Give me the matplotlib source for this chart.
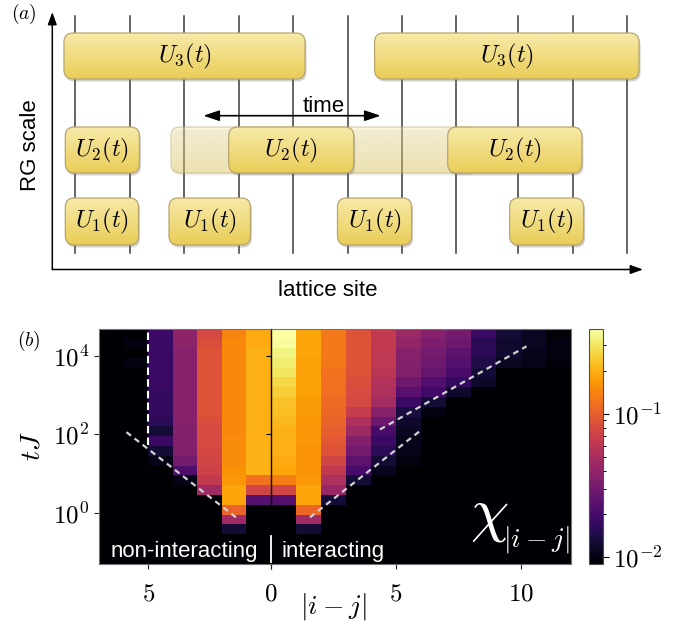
import numpy as np
import matplotlib
matplotlib.use('Agg')
import matplotlib.pyplot as plt
from matplotlib.colors import LogNorm, to_rgba
from matplotlib.patches import FancyBboxPatch
from matplotlib.ticker import FixedLocator, NullLocator

plt.rcParams['mathtext.fontset'] = 'cm'
plt.rcParams['font.family'] = ['Liberation Sans', 'DejaVu Sans']

# ---------------- panel (b) data ----------------
# log10(tJ) cell edges (bottom -> top)
log10_t_edges = [-0.55, -0.30, -0.05, 0.20, 0.45, 0.70, 0.95, 1.20, 1.45, 1.70, 1.95,
                 2.20, 2.45, 2.70, 2.95, 3.20, 3.45, 3.70, 3.95, 4.20, 4.45, 4.70]
B = -2.5  # below colour range
# log10(chi) per column, rows listed from top (large t) to bottom (small t)
# non-interacting side, columns x = [-7,-6] ... [-1,0]
log_chi_nonint = [
    [B, B, B, B, B, B, B, B, B, B, B, B, B, B, B, B, B, B, B, B, B],
    [B, -2.00, B, -2.00, B, B, B, B, B, B, B, B, B, B, B, B, B, B, B, B, B],
    [-1.74, -1.75, -1.75, -1.75, -1.75, -1.75, -1.77, -1.77, -1.77, -1.80, -1.89,
     -1.75, -1.89, -1.98, B, B, B, B, B, B, B],
    [-1.42, -1.42, -1.44, -1.44, -1.44, -1.44, -1.44, -1.44, -1.44, -1.44, -1.46,
     -1.46, -1.46, -1.51, -1.67, -1.98, B, B, B, B, B],
    [-1.11, -1.08, -1.06, -1.06, -1.06, -1.06, -1.06, -1.06, -1.06, -1.08, -1.10,
     -1.10, -1.11, -1.13, -1.15, -1.20, -1.34, B, B, B, B],
    [-0.85, -0.83, -0.83, -0.83, -0.83, -0.83, -0.83, -0.83, -0.83, -0.83, -0.83,
     -0.82, -0.82, -0.82, -0.80, -0.78, -0.73, -0.73, -0.98, -1.34, -1.89],
    [-0.72, -0.72, -0.70, -0.70, -0.70, -0.70, -0.70, -0.70, -0.70, -0.70, -0.70,
     -0.70, -0.69, -0.69, -0.69, -0.92, -1.13, -1.64, B, B, B],
]
# interacting side, columns x = [0,1] ... [11,12]
log_chi_int = [
    [-0.41, -0.42, -0.47, -0.49, -0.52, -0.57, -0.60, -0.64, -0.65, -0.67, -0.69,
     -0.70, -0.70, -0.72, -0.73, -0.88, -1.13, -1.64, B, B, B],
    [-0.73, -0.73, -0.73, -0.75, -0.75, -0.75, -0.75, -0.77, -0.77, -0.78, -0.78,
     -0.78, -0.80, -0.80, -0.80, -0.78, -0.73, -0.73, -0.96, -1.34, -1.89],
    [-0.90, -0.90, -0.90, -0.90, -0.92, -0.93, -0.93, -0.95, -0.96, -0.98, -1.00,
     -1.03, -1.06, -1.13, -1.20, -1.28, -1.38, -1.89, B, B, B],
    [-1.06, -1.05, -1.05, -1.06, -1.06, -1.08, -1.10, -1.11, -1.18, -1.28, -1.36,
     -1.46, -1.52, -1.61, -1.69, -1.89, B, B, B, B, B],
    [-1.20, -1.20, -1.21, -1.21, -1.23, -1.26, -1.28, -1.33, -1.44, -1.56, -1.69,
     -1.75, -1.80, -1.89, -1.97, B, B, B, B, B, B],
    [-1.36, -1.39, -1.44, -1.46, -1.47, -1.54, -1.62, -1.75, -1.87, -1.92, -1.95,
     -1.97, -1.98, -2.00, B, B, B, B, B, B, B],
    [-1.44, -1.49, -1.51, -1.54, -1.57, -1.66, -1.72, -1.89, -2.00, B, B,
     B, B, B, B, B, B, B, B, B, B],
    [-1.51, -1.54, -1.61, -1.64, -1.69, -1.77, -1.92, B, B, B, B,
     B, B, B, B, B, B, B, B, B, B],
    [-1.75, -1.80, -1.80, -1.84, -1.89, -1.93, B, B, B, B, B,
     B, B, B, B, B, B, B, B, B, B],
    [-1.89, -1.92, -1.92, -1.95, B, B, B, B, B, B, B,
     B, B, B, B, B, B, B, B, B, B],
    [-1.95, -1.95, -1.97, -1.98, B, B, B, B, B, B, B,
     B, B, B, B, B, B, B, B, B, B],
    [-2.03, -2.00, -2.00, -2.02, B, B, B, B, B, B, B,
     B, B, B, B, B, B, B, B, B, B],
]
# dashed guide lines: (x0, log10 t0) -> (x1, log10 t1)
guide_left = [(-1.43, -0.12), (-5.95, 2.08)]
guide_right_low = [(1.56, -0.12), (5.96, 2.08)]
guide_right_high = [(4.36, 2.12), (10.23, 4.24)]
wall_x, wall_logt = -5.0, (1.72, 4.70)

cbar_vmin_log, cbar_vmax_log = -2.049, -0.406

# ---------------- panel (a) diagram ----------------
site_x = [75.3, 129.8, 184.2, 238.7, 293.1, 347.6, 402.0, 456.4, 518.3, 572.7, 627.2]
row_y = {3: (33, 79), 2: (127, 173), 1: (198, 245)}
gates_U3 = [(64, 305), (374.6, 639)]
gates_U2 = [(65.3, 139.4), (228.7, 353.7), (447.7, 581.9)]
ghost_U2 = (171, 477)
gates_U1 = [(65.3, 138.5), (169, 250.4), (337.5, 411.6), (509.6, 583.6)]

W, H = 684, 622
fig = plt.figure(figsize=(W / 100, H / 100), dpi=100)

# ---------------- panel (b) ----------------
cmap = plt.get_cmap('inferno').copy()
cmap.set_under(cmap(0.0))
norm = LogNorm(vmin=10 ** cbar_vmin_log, vmax=10 ** cbar_vmax_log)
bg = cmap(0.0)

bot = (H - 564) / H
hgt = (564 - 328.7) / H
axL = fig.add_axes([99.3 / W, bot, (271 - 99.3) / W, hgt])
axR = fig.add_axes([271 / W, bot, (570.7 - 271) / W, hgt], sharey=axL)

t_edges = 10 ** np.array(log10_t_edges)
ZL = 10 ** np.array(log_chi_nonint, dtype=float).T[::-1]
ZR = 10 ** np.array(log_chi_int, dtype=float).T[::-1]
xL = np.arange(-len(log_chi_nonint), 1)
xR = np.arange(0, len(log_chi_int) + 1)
mesh = axL.pcolormesh(xL, t_edges, ZL, cmap=cmap, norm=norm, shading='flat',
                      antialiased=False, linewidth=0)
axR.pcolormesh(xR, t_edges, ZR, cmap=cmap, norm=norm, shading='flat',
               antialiased=False, linewidth=0)

for ax in (axL, axR):
    ax.set_facecolor(bg)
    ax.set_yscale('log')
axL.set_ylim(10 ** -1.31, 10 ** 4.69)
axL.set_xlim(-7, 0)
axR.set_xlim(0, 12)

axL.yaxis.set_major_locator(FixedLocator([1, 1e2, 1e4]))
axL.yaxis.set_minor_locator(NullLocator())
axL.set_yticklabels([r'$10^{0}$', r'$10^{2}$', r'$10^{4}$'])
axL.set_xticks([-5, 0])
axL.set_xticklabels([r'$5$', ''])
axR.set_xticks([0, 5, 10])
axR.set_xticklabels([r'$0$', r'$5$', r'$10$'])
axR.tick_params(axis='y', labelleft=False)

for ax in (axL, axR):
    ax.tick_params(axis='both', which='major', length=3.5, width=0.8, labelsize=18,
                   color='0.15')
    ax.tick_params(axis='x', pad=9)
    ax.tick_params(axis='y', pad=3.7)
    for s in ax.spines.values():
        s.set_color('0.45')
        s.set_linewidth(0.8)
axL.spines['right'].set_visible(False)
axR.spines['left'].set_color('black')
axR.spines['left'].set_linewidth(1.0)
axR.tick_params(axis='y', color='black')

# guide lines
gc = '#d2d2d2'
for ax, g in ((axL, guide_left), (axR, guide_right_low), (axR, guide_right_high)):
    ax.plot([g[0][0], g[1][0]], [10 ** g[0][1], 10 ** g[1][1]], color=gc, lw=1.6,
            ls=(0, (2.6, 2.0)), zorder=4)
axL.plot([wall_x, wall_x], [10 ** wall_logt[0], 10 ** wall_logt[1]], color='white',
         lw=1.5, ls=(0, (3.6, 2.0)), zorder=4)

# texts inside heatmap
axL.text(-0.53, 10 ** -1.13, 'non-interacting', color='white', fontsize=16,
         ha='right', va='baseline', zorder=6)
axR.text(0.43, 10 ** -1.13, 'interacting', color='white', fontsize=16,
         ha='left', va='baseline', zorder=6)
axR.plot([0, 0], [10 ** -0.59, 10 ** -1.25], color='white', lw=1.3, clip_on=False,
         zorder=6)
axR.text(7.96, 10 ** -0.44, r'$\chi$', color='white', fontsize=44, ha='left',
         va='baseline', zorder=6)
axR.text(9.28, 10 ** -0.87, r'$|i-j|$', color='white', fontsize=20, ha='left',
         va='baseline', zorder=6)

# colorbar
cax = fig.add_axes([589 / W, bot, 14 / W, hgt])
cb = fig.colorbar(mesh, cax=cax, extend='neither')
cb.set_ticks([1e-2, 1e-1])
cb.set_ticklabels([r'$10^{-2}$', r'$10^{-1}$'])
cb.ax.yaxis.set_minor_locator(FixedLocator([2e-2, 3e-2, 4e-2, 5e-2, 6e-2, 7e-2, 8e-2,
                                            9e-2, 2e-1, 3e-1]))
cb.ax.tick_params(which='major', length=4, width=0.8, labelsize=18, pad=3.5)
cb.ax.tick_params(which='minor', length=2.5, width=0.7)
cb.outline.set_linewidth(0.8)
cb.outline.set_edgecolor('0.3')

# ---------------- overlay (pixel coords) for panel (a) and labels ----------------
ax = fig.add_axes([0, 0, 1, 1], zorder=10)
ax.set_xlim(0, W)
ax.set_ylim(H, 0)
ax.set_autoscale_on(False)
ax.axis('off')
ax.patch.set_alpha(0)

top_c = np.array(to_rgba('#f7eaa9'))
bot_c = np.array(to_rgba('#eacd57'))


def gate(x0, x1, row, label=None, alpha=1.0, z=4, shadow=0.32):
    y0, y1 = row_y[row]
    w, h = x1 - x0, y1 - y0
    style = "round,pad=0,rounding_size=9"
    sh = FancyBboxPatch((x0 + 1.5, y0 + 2.5), w, h, boxstyle=style, fc='#707070',
                        ec='none', alpha=shadow, zorder=z - 0.5)
    ax.add_patch(sh)
    box = FancyBboxPatch((x0, y0), w, h, boxstyle=style, fc='none', ec='#b8a66c',
                         lw=0.9, alpha=min(1.0, alpha * 1.3), zorder=z + 0.1)
    ax.add_patch(box)
    s = np.linspace(0, 1, 64)[:, None]
    col = top_c * (1 - s) + bot_c * s
    grad = np.repeat(col[:, None, :], 2, axis=1)
    grad[..., 3] = alpha
    im = ax.imshow(grad, extent=(x0, x1, y1, y0), aspect='auto', origin='upper',
                   interpolation='bilinear', zorder=z)
    im.set_clip_path(box)
    if label:
        ax.text((x0 + x1) / 2, (y0 + y1) / 2, label, fontsize=17.5, ha='center',
                va='center', zorder=z + 1)


for x in site_x:
    ax.plot([x, x], [16, 253], color='#3a3a3a', lw=1.1, zorder=1)

gate(ghost_U2[0], ghost_U2[1], 2, alpha=0.40, z=3, shadow=0.10)
for x0, x1 in gates_U3:
    gate(x0, x1, 3, r'$U_3(t)$')
for x0, x1 in gates_U2:
    gate(x0, x1, 2, r'$U_2(t)$')
for x0, x1 in gates_U1:
    gate(x0, x1, 1, r'$U_1(t)$')

axis_arrow = dict(arrowstyle='-|>,head_length=0.5,head_width=0.18', lw=1.1,
                  color='black', shrinkA=0, shrinkB=0, mutation_scale=15)
ax.annotate('', xy=(52.3, 12), xytext=(52.3, 269.5), arrowprops=axis_arrow, zorder=5)
ax.annotate('', xy=(643, 269.5), xytext=(52.3, 269.5), arrowprops=axis_arrow, zorder=5)
ax.annotate('', xy=(380.7, 115.7), xytext=(203.3, 115.7),
            arrowprops=dict(arrowstyle='<|-|>,head_length=0.6,head_width=0.2', lw=1.2,
                            color='black', shrinkA=0, shrinkB=0, mutation_scale=16),
            zorder=5)
ax.text(323.8, 111.5, 'time', fontsize=16, ha='center', va='baseline', zorder=6)
ax.text(30.5, 145, 'RG scale', fontsize=16, rotation=90, ha='center', va='center')
ax.text(328, 290, 'lattice site', fontsize=16, ha='center', va='center')
ax.text(24, 14, r'$(a)$', fontsize=14, ha='center', va='center')

# panel (b) outer labels
ax.text(29, 341, r'$(b)$', fontsize=14, ha='center', va='center')
ax.text(32, 446, r'$tJ$', fontsize=20, rotation=90, ha='center', va='center')
ax.text(333, 606, r'$|i-j|$', fontsize=20, ha='center', va='center')

fig.savefig('out.png', dpi=100)
